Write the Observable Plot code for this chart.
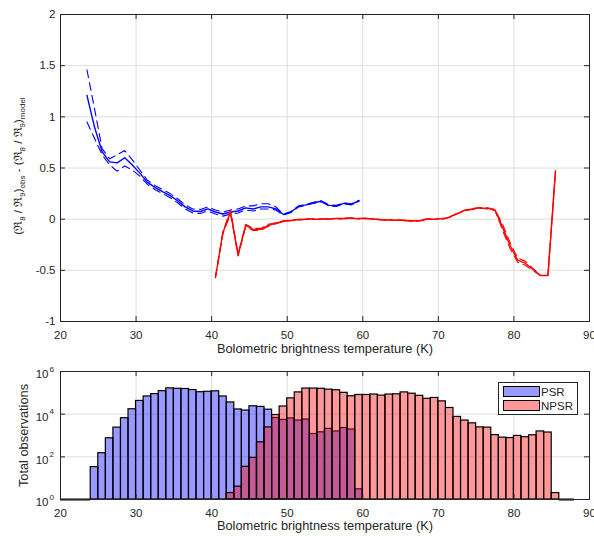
<!DOCTYPE html>
<html>
<head>
<meta charset="utf-8">
<script src="https://cdn.jsdelivr.net/npm/d3@7"></script>
<script src="https://cdn.jsdelivr.net/npm/@observablehq/plot@0.6"></script>
<style>
  body { margin: 0; background: #fff; }
  #wrap { position: relative; width: 594px; height: 536px; font-family: "Liberation Sans", Arial, Helvetica, sans-serif; color: #262626; }
  #top, #bot { position: absolute; left: 0; }
  #top { top: 0; }
  #bot { top: 362px; }
  #legend { position: absolute; left: 498px; top: 382px; width: 78px; height: 31px; border: 1px solid #262626; background: #fff; font-size: 11.5px; }
  .sw { position: absolute; left: 4px; width: 35px; height: 9px; border: 1px solid #000; }
  .lt { position: absolute; left: 42px; line-height: 12px; }
</style>
</head>
<body>
<div id="wrap">
  <div id="top"></div>
  <div id="bot"></div>
  <div id="legend">
    <div class="sw" style="top:3px;background:rgb(153,153,255)"></div><div class="lt" style="top:3px">PSR</div>
    <div class="sw" style="top:17px;background:rgb(255,153,153)"></div><div class="lt" style="top:17px">NPSR</div>
  </div>
</div>
<script>
// ---------- data ----------
const xTicks = [20, 30, 40, 50, 60, 70, 80, 90];
const yTicksTop = [-1, -0.5, 0, 0.5, 1, 1.5, 2];
const yTicksBot = [1, 100, 10000, 1000000];
const xLabel = "Bolometric brightness temperature (K)";
const yLabelBot = "Total observations";

// PSR ratio difference (bin centres, K)
const blueT = [23.5,24.5,25.5,26.5,27.5,28.5,29.5,30.5,31.5,32.5,33.5,34.5,35.5,36.5,37.5,38.5,39.5,40.5,41.5,42.5,43.5,44.5,45.5,46.5,47.5,48.5,49.5,50.5,51.5,52.5,53.5,54.5,55.5,56.5,57.5,58.5,59.5];
const blueMid = [1.21,0.90,0.66,0.56,0.55,0.60,0.53,0.45,0.36,0.31,0.27,0.23,0.18,0.12,0.08,0.075,0.10,0.07,0.05,0.07,0.08,0.11,0.10,0.12,0.12,0.10,0.045,0.07,0.125,0.14,0.16,0.175,0.135,0.13,0.155,0.145,0.18];
const blueHi = [1.46,1.08,0.69,0.59,0.63,0.67,0.58,0.48,0.38,0.33,0.29,0.25,0.20,0.14,0.10,0.095,0.12,0.09,0.07,0.09,0.10,0.13,0.13,0.15,0.15,0.12,0.05,0.075,0.13,0.145,0.165,0.18,0.14,0.135,0.16,0.15,0.185];
const blueLo = [0.95,0.79,0.63,0.53,0.47,0.52,0.48,0.42,0.34,0.29,0.25,0.21,0.16,0.10,0.06,0.055,0.08,0.05,0.03,0.05,0.06,0.09,0.08,0.10,0.10,0.09,0.04,0.065,0.12,0.135,0.155,0.17,0.13,0.125,0.15,0.14,0.175];

// NPSR ratio difference
const redT = [40.5,41.5,42.5,43.5,44.5,45.5,46.5,47.5,48.5,49.5,50.5,51.5,52.5,53.5,54.5,55.5,56.5,57.5,58.5,59.5,60.5,61.5,62.5,63.5,64.5,65.5,66.5,67.5,68.5,69.5,70.5,71.5,72.5,73.5,74.5,75.5,76.5,77.5,78.5,79.5,80.5,81.5,82.5,83.5,84.5,85.5];
const redMid = [-0.57,-0.13,0.07,-0.35,-0.06,-0.10,-0.10,-0.06,-0.04,-0.02,-0.012,-0.005,0.0,0.0,0.0,0.003,0.005,0.007,0.01,0.005,0.008,0.0,-0.005,-0.008,-0.01,-0.012,-0.018,-0.015,0.0,0.0,0.003,0.02,0.055,0.085,0.10,0.11,0.105,0.09,-0.08,-0.26,-0.40,-0.43,-0.49,-0.55,-0.55,0.47];
const redHi = [-0.57,-0.12,0.09,-0.34,-0.05,-0.09,-0.09,-0.05,-0.035,-0.016,-0.009,-0.002,0.003,0.003,0.003,0.006,0.008,0.01,0.013,0.008,0.011,0.003,-0.002,-0.005,-0.007,-0.009,-0.015,-0.012,0.003,0.003,0.006,0.023,0.058,0.088,0.104,0.114,0.11,0.095,-0.05,-0.23,-0.38,-0.41,-0.48,-0.55,-0.55,0.47];
const redLo = [-0.57,-0.14,0.05,-0.36,-0.075,-0.11,-0.11,-0.07,-0.045,-0.024,-0.015,-0.008,-0.003,-0.003,-0.003,0.0,0.002,0.004,0.007,0.002,0.005,-0.003,-0.008,-0.011,-0.013,-0.015,-0.021,-0.018,-0.003,-0.003,0.0,0.017,0.052,0.082,0.096,0.106,0.10,0.085,-0.11,-0.29,-0.42,-0.45,-0.50,-0.55,-0.55,0.47];

// Histogram counts (1 K bins, left edges)
const binWidth = 1;
const psrBins = [20,21,22,23,24,25,26,27,28,29,30,31,32,33,34,35,36,37,38,39,40,41,42,43,44,45,46,47,48,49,50,51,52,53,54,55,56,57,58,59];
const psrCounts = [0,0,0,0,33,148,741,2344,6457,16982,41687,67608,87096,120226,162181,154882,151356,134896,107152,112202,117490,67608,35481,16596,14791,23442,21878,16218,6607,5370,6310,5012,5623,1175,1413,2042,1549,2239,1905,3];
const npsrBins = [42,43,44,45,46,47,48,49,50,51,52,53,54,55,56,57,58,59,60,61,62,63,64,65,66,67,68,69,70,71,72,73,74,75,76,77,78,79,80,81,82,83,84,85,86,87];
const npsrCounts = [2,4,34,89,479,2399,9120,22909,54954,104713,158489,158489,154882,141254,131826,100000,69183,79433,79433,83176,74131,83176,85114,104713,91201,72444,52481,57544,39811,19498,7413,5012,3715,2399,2344,1047,794,759,955,832,1023,1549,1380,2,0,0];

// ---------- style ----------
const ink = "#262626";
const gridC = "#dedede";
const font = "Liberation Sans, Arial, Helvetica, sans-serif";
const tickLen = 5;

function frameTicks(xt, yt, plotW, plotH) {
  return [
    Plot.tickX(xt, {x: d => d, insetTop: plotH - tickLen, stroke: ink}),
    Plot.tickX(xt, {x: d => d, insetBottom: plotH - tickLen, stroke: ink}),
    Plot.tickY(yt, {y: d => d, insetRight: plotW - tickLen, stroke: ink}),
    Plot.tickY(yt, {y: d => d, insetLeft: plotW - tickLen, stroke: ink})
  ];
}

// ---------- top chart ----------
const W = 594, mL = 60, mR = 5;
const topH = 362, topMT = 14, topMB = 41;
const blue = blueT.map((t, i) => ({t, mid: blueMid[i], hi: blueHi[i], lo: blueLo[i]}));
const red = redT.map((t, i) => ({t, mid: redMid[i], hi: redHi[i], lo: redLo[i]}));

const topPlot = Plot.plot({
  width: W, height: topH,
  marginLeft: mL, marginRight: mR, marginTop: topMT, marginBottom: topMB,
  style: {fontFamily: font, fontSize: "11.5px", color: ink, background: "white"},
  x: {domain: [20, 90], label: null, axis: null},
  y: {domain: [-1, 2], label: null, axis: null},
  marks: [
    Plot.gridX(xTicks, {stroke: gridC, strokeOpacity: 1}),
    Plot.gridY(yTicksTop, {stroke: gridC, strokeOpacity: 1}),
    Plot.line(blue, {x: "t", y: "hi", stroke: "#0000ff", strokeWidth: 1.1, strokeDasharray: "8,5"}),
    Plot.line(blue, {x: "t", y: "lo", stroke: "#0000ff", strokeWidth: 1.1, strokeDasharray: "8,5"}),
    Plot.line(blue, {x: "t", y: "mid", stroke: "#0000ff", strokeWidth: 1.4}),
    Plot.line(red, {x: "t", y: "hi", stroke: "#ff0000", strokeWidth: 1.1, strokeDasharray: "8,5"}),
    Plot.line(red, {x: "t", y: "lo", stroke: "#ff0000", strokeWidth: 1.1, strokeDasharray: "8,5"}),
    Plot.line(red, {x: "t", y: "mid", stroke: "#ff0000", strokeWidth: 1.4}),
    Plot.frame({stroke: ink}),
    ...frameTicks(xTicks, yTicksTop, W - mL - mR, topH - topMT - topMB),
    Plot.axisX(xTicks, {tickSize: 0, tickPadding: 9, label: null, fill: ink}),
    Plot.axisY(yTicksTop, {tickSize: 0, tickPadding: 5, label: null, tickFormat: d => String(d), fill: ink}),
    Plot.text([xLabel], {frameAnchor: "bottom", dy: 31, fontSize: 12.8, fill: ink})
  ]
});
document.getElementById("top").appendChild(topPlot);

// y label with subscripts
const yl = d3.select(topPlot).append("text")
  .attr("transform", "translate(22,166) rotate(-90)")
  .attr("text-anchor", "middle")
  .attr("fill", ink)
  .style("font-family", font)
  .style("font-size", "11.5px");
const parts = [["(ℜ", 0], ["8", 1], [" / ℜ", 0], ["9", 1], [")", 0], ["obs", 1], [" - (ℜ", 0], ["8", 1], [" / ℜ", 0], ["9", 1], [")", 0], ["model", 1]];
let prevSub = 0;
for (const [s, sub] of parts) {
  const ts = yl.append("tspan").text(s);
  const shift = (sub ? 3 : 0) - prevSub;
  if (shift) ts.attr("dy", shift);
  if (sub) ts.style("font-size", "8px");
  prevSub = sub ? 3 : 0;
}

// ---------- bottom chart ----------
const botH = 174, botMT = 9, botMB = 37;
const psr = psrBins.map((b, i) => ({b, c: psrCounts[i]}));
const npsr = npsrBins.map((b, i) => ({b, c: npsrCounts[i]}));
const baseline = 1;

const botPlot = Plot.plot({
  width: W, height: botH,
  marginLeft: mL, marginRight: mR, marginTop: botMT, marginBottom: botMB,
  style: {fontFamily: font, fontSize: "11.5px", color: ink, background: "white"},
  x: {domain: [20, 90], label: null, axis: null},
  y: {type: "log", domain: [1, 1e6], label: null, axis: null},
  marks: [
    Plot.gridX(xTicks, {stroke: gridC, strokeOpacity: 1}),
    Plot.gridY(yTicksBot, {stroke: gridC, strokeOpacity: 1}),
    Plot.rect(psr.filter(d => d.c > 0), {x1: "b", x2: d => d.b + binWidth, y1: () => baseline, y2: "c", fill: "#0000ff", fillOpacity: 0.4, stroke: "#000", strokeWidth: 1.2}),
    Plot.rect(npsr.filter(d => d.c > 0), {x1: "b", x2: d => d.b + binWidth, y1: () => baseline, y2: "c", fill: "#ff0000", fillOpacity: 0.4, stroke: "#000", strokeWidth: 1.2}),
    Plot.ruleY(psr.filter(d => d.c === 0), {y: () => baseline, x1: "b", x2: d => d.b + binWidth, stroke: "#000", strokeWidth: 2}),
    Plot.ruleY(npsr.filter(d => d.c === 0), {y: () => baseline, x1: "b", x2: d => d.b + binWidth, stroke: "#000", strokeWidth: 2}),
    Plot.frame({stroke: ink}),
    ...frameTicks(xTicks, yTicksBot, W - mL - mR, botH - botMT - botMB),
    Plot.axisX(xTicks, {tickSize: 0, tickPadding: 9, label: null, fill: ink}),
    Plot.text(yTicksBot, {y: d => d, frameAnchor: "left", dx: -12, dy: 3, text: () => "10", textAnchor: "end", fontSize: 11.5, fill: ink}),
    Plot.text(yTicksBot, {y: d => d, frameAnchor: "left", dx: -11, dy: -2.5, text: d => String(Math.round(Math.log10(d))), textAnchor: "start", fontSize: 8, fill: ink}),
    Plot.text([xLabel], {frameAnchor: "bottom", dy: 30, fontSize: 12.8, fill: ink}),
    Plot.text([yLabelBot], {frameAnchor: "left", dx: -37, rotate: -90, textAnchor: "middle", fontSize: 12.8, fill: ink})
  ]
});
document.getElementById("bot").appendChild(botPlot);
</script>
</body>
</html>
